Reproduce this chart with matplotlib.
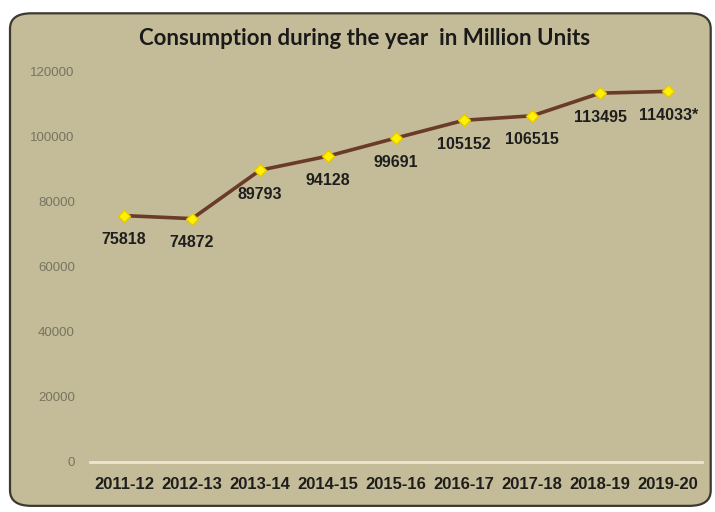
import matplotlib
matplotlib.use('Agg')
import matplotlib.pyplot as plt
from matplotlib.patches import FancyBboxPatch

years = ['2011-12', '2012-13', '2013-14', '2014-15', '2015-16',
         '2016-17', '2017-18', '2018-19', '2019-20']
consumption = [75818, 74872, 89793, 94128, 99691, 105152, 106515, 113495, 114033]
point_labels = ['75818', '74872', '89793', '94128', '99691',
                '105152', '106515', '113495', '114033*']
yticks = [0, 20000, 40000, 60000, 80000, 100000, 120000]

bg = '#C4BC98'

fig = plt.figure(figsize=(7.15, 5.12), dpi=100)
fig.patch.set_facecolor('white')

# rounded panel behind the chart
panel = FancyBboxPatch((0.014, 0.012), 0.98, 0.962,
                       boxstyle='round,pad=0,rounding_size=0.03',
                       transform=fig.transFigure, facecolor=bg,
                       edgecolor='#3C3A30', linewidth=1.6, zorder=-1)
fig.patches.append(panel)

ax = fig.add_axes([0.126, 0.0977, 0.856, 0.7617])
ax.set_zorder(2)
ax.set_facecolor('none')
x = list(range(len(years)))
ax.plot(x, consumption, color='#6A3B28', linewidth=2.6, zorder=3,
        marker='D', markersize=6.5, markerfacecolor='#FFF200',
        markeredgecolor='#E8C800', markeredgewidth=1, clip_on=False)

for xi, yi, lab in zip(x, consumption, point_labels):
    ax.annotate(lab, (xi, yi), xytext=(0, -12), textcoords='offset points',
                ha='center', va='top', fontsize=11.5, fontweight='bold',
                family='Liberation Sans', color='#1E1E1E')

ax.set_xlim(-0.5, 8.5)
ax.set_ylim(0, 120000)
ax.set_xticks(x)
ax.set_xticklabels(years, fontsize=12, fontweight='bold',
                   family='Liberation Sans', color='#1E1E1E')
ax.set_yticks(yticks)
ax.set_yticklabels([str(v) for v in yticks], fontsize=9.5,
                   family='Liberation Sans', color='#77745F')
ax.tick_params(axis='both', length=0)
ax.tick_params(axis='x', pad=11)
ax.tick_params(axis='y', pad=11)
for s in ['top', 'right', 'left']:
    ax.spines[s].set_visible(False)
ax.spines['bottom'].set_color('#ECE6D2')
ax.spines['bottom'].set_linewidth(2)

fig.text(0.51, 0.925, 'Consumption during the year  in Million Units',
         ha='center', va='center', fontsize=16, fontweight='bold',
         family='Lato', color='#1A1A1A', zorder=3)

fig.savefig('out.png', dpi=100)
